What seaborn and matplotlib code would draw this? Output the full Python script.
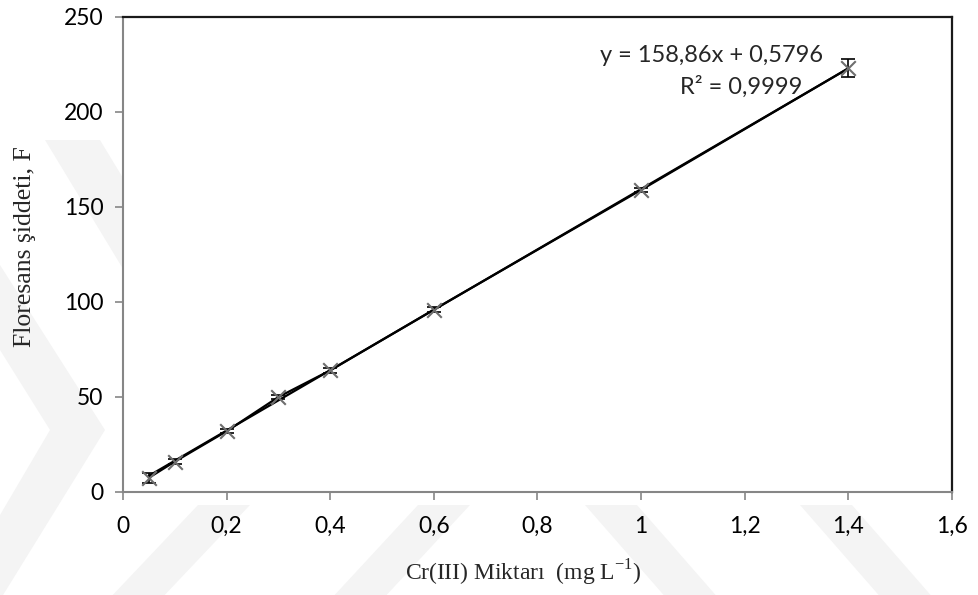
import matplotlib
matplotlib.use("Agg")
import matplotlib.pyplot as plt
from matplotlib.patches import Polygon
import seaborn as sns
import numpy as np
import pandas as pd

# Calibration data: Cr(III) amount vs fluorescence intensity
concentration = [0.05, 0.1, 0.2, 0.3, 0.4, 0.6, 1.0, 1.4]
intensity = [7.5, 16.0, 32.0, 50.0, 64.0, 96.0, 159.0, 223.0]
intensity_err = [2.6, 1.2, 1.2, 1.2, 1.2, 1.2, 1.2, 4.8]

# Linear fit reported on the chart
slope = 158.86
intercept = 0.5796
r_squared = "0,9999"

x_ticks = [0, 0.2, 0.4, 0.6, 0.8, 1.0, 1.2, 1.4, 1.6]
x_tick_labels = ["0", "0,2", "0,4", "0,6", "0,8", "1", "1,2", "1,4", "1,6"]
y_ticks = [0, 50, 100, 150, 200, 250]

sns.set_theme(style="white")
plt.rcParams["font.family"] = ["Lato", "DejaVu Sans"]

W, H = 979, 595
fig = plt.figure(figsize=(W / 100, H / 100), dpi=100)

# faint background watermark bands (pixel coordinates, y measured from the top)
bands = [
    [(0, 265), (105, 430), (0, 600), (0, 515), (50, 430), (0, 350)],
    [(45, 140), (100, 140), (215, 330), (160, 330)],
    [(108, 600), (160, 600), (250, 505), (198, 505)],
    [(330, 600), (382, 600), (470, 505), (418, 505)],
    [(585, 505), (637, 505), (720, 600), (668, 600)],
    [(800, 505), (852, 505), (935, 600), (883, 600)],
]
for pts in bands:
    fig.add_artist(Polygon([(x / W, 1 - y / H) for x, y in pts], closed=True,
                           transform=fig.transFigure, facecolor="#f4f4f4",
                           edgecolor="none", zorder=-10))

ax = fig.add_axes([123 / W, 1 - 492 / H, (952 - 123) / W, (492 - 17) / H])
ax.set_zorder(5)
ax.set_facecolor("white")

df = pd.DataFrame({"conc": concentration, "F": intensity})

# fitted trendline over the measured range
fit_x = np.array([concentration[0], concentration[-1]])
fit_df = pd.DataFrame({"conc": fit_x, "F": slope * fit_x + intercept})
sns.lineplot(data=fit_df, x="conc", y="F", ax=ax, color="black", linewidth=1.6, zorder=3)

# measured points joined by a line
sns.lineplot(data=df, x="conc", y="F", ax=ax, color="black", linewidth=1.6, zorder=3)
ax.errorbar(concentration, intensity, yerr=intensity_err, fmt="none",
            ecolor="black", elinewidth=1.2, capsize=5, capthick=1.2, zorder=4)
sns.scatterplot(data=df, x="conc", y="F", ax=ax, marker="x", s=110,
                color="#6e6e6e", linewidth=1.5, zorder=5)

ax.set_xlim(0, 1.6)
ax.set_ylim(0, 250)
ax.set_xticks(x_ticks)
ax.set_xticklabels(x_tick_labels)
ax.set_yticks(y_ticks)
ax.set_yticklabels([str(v) for v in y_ticks])

ax.tick_params(axis="both", which="major", direction="out", length=6, width=1.2,
               color="#868686", labelsize=16.5, labelcolor="black")
ax.tick_params(axis="y", pad=8)
ax.tick_params(axis="x", pad=11)
ax.tick_params(bottom=True, left=True)

for side in ["left", "bottom"]:
    ax.spines[side].set_color("#868686")
    ax.spines[side].set_linewidth(1.5)
for side in ["top", "right"]:
    ax.spines[side].set_color("#1a1a1a")
    ax.spines[side].set_linewidth(1.6)
    ax.spines[side].set_visible(True)

ax.set_xlabel("Cr(III) Miktarı  (mg L$^{\\mathregular{-1}}$)", family="Liberation Serif",
              fontsize=17)
ax.set_ylabel("Floresans şiddeti, F", family="Liberation Serif", fontsize=18.5)
ax.xaxis.set_label_coords((523 - 123) / 829, (492 - 558) / 475)
ax.yaxis.set_label_coords((36 - 123) / 829, (492 - 247) / 475)

ax.text((712 - 123) / 829, (492 - 56) / 475,
        f"y = {slope:.2f}x + {intercept}".replace(".", ","), transform=ax.transAxes,
        ha="center", va="center", fontsize=17)
ax.text((741 - 123) / 829, (492 - 87) / 475, f"R² = {r_squared}", transform=ax.transAxes,
        ha="center", va="center", fontsize=17)

ax.grid(False)
fig.savefig("out.png", dpi=100)
